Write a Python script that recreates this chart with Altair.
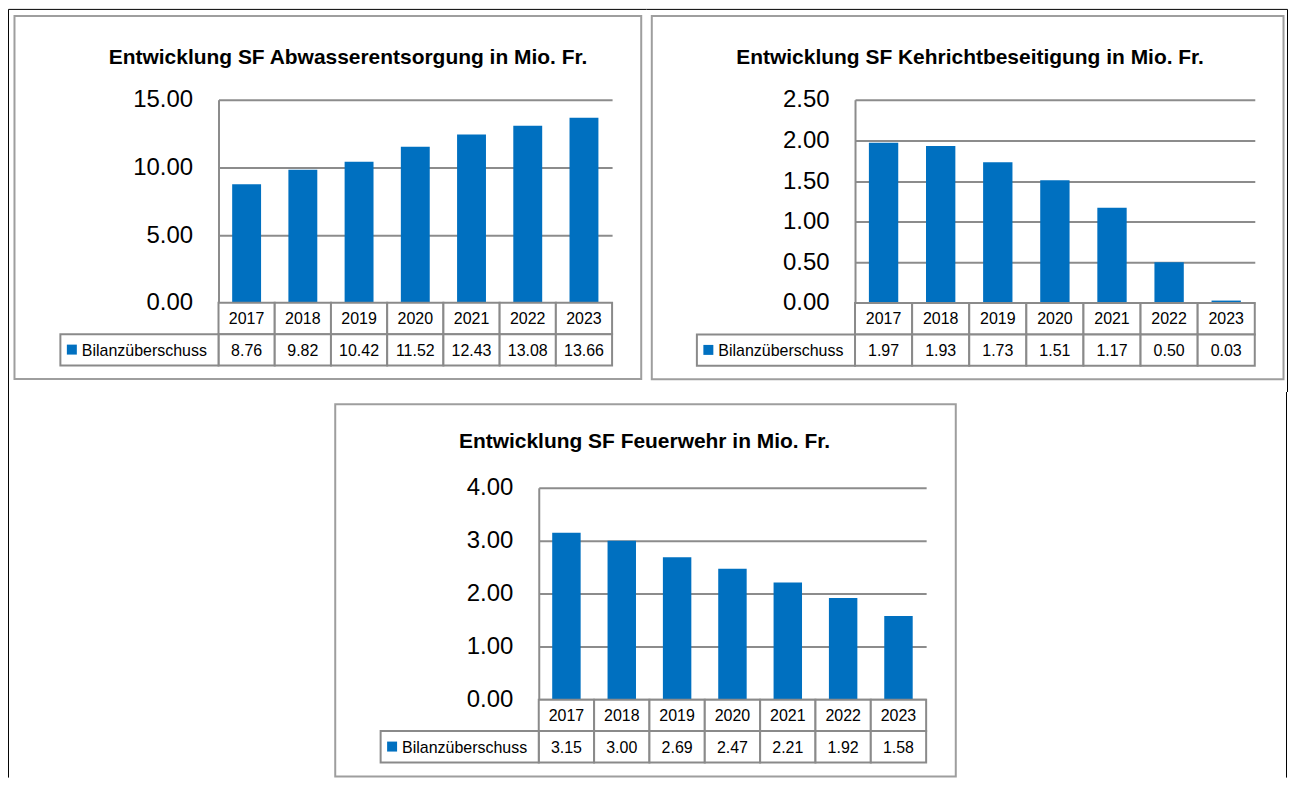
import altair as alt
import pandas as pd

# ---------------- data ----------------
years = ["2017", "2018", "2019", "2020", "2021", "2022", "2023"]
abwasser = [8.76, 9.82, 10.42, 11.52, 12.43, 13.08, 13.66]
kehricht = [1.97, 1.93, 1.73, 1.51, 1.17, 0.50, 0.03]
feuerwehr = [3.15, 3.00, 2.69, 2.47, 2.21, 1.92, 1.58]
titles = [
    "Entwicklung SF Abwasserentsorgung in Mio. Fr.",
    "Entwicklung SF Kehrichtbeseitigung in Mio. Fr.",
    "Entwicklung SF Feuerwehr in Mio. Fr.",
]
series_name = "Bilanzüberschuss"
y_ticks = [[0, 5, 10, 15], [0, 0.5, 1, 1.5, 2, 2.5], [0, 1, 2, 3, 4]]
y_max = [15, 2.5, 4]

# ---------------- style ----------------
BLUE = "#0070C0"
GRID = "#8c8c8c"
TABLE = "#8a8a8a"
FRAME = "#9e9e9e"
FONT = "Liberation Sans"
ROW = 31.5
one = pd.DataFrame({"k": [0]})


def black_lines(lines):
    out = []
    for ln in lines:
        if ln[0] == "h":
            _, x1, x2, y = ln
            out.append(alt.Chart(one).mark_rule(color="black", strokeWidth=1).encode(
                x=alt.value(x1), x2=alt.value(x2), y=alt.value(y)))
        else:
            _, x, y1, y2 = ln
            out.append(alt.Chart(one).mark_rule(color="black", strokeWidth=1).encode(
                x=alt.value(x), y=alt.value(y1), y2=alt.value(y2)))
    return out


def panel(values, title, ticks, ymax, W, H, frame, title_pos, lines):
    df = pd.DataFrame({"year": years, "value": values})
    xb = alt.X("year:N", sort=years, axis=None,
               scale=alt.Scale(paddingInner=0.486, paddingOuter=0.243))
    xc = alt.X("year:N", sort=years, axis=None,
               scale=alt.Scale(paddingInner=0, paddingOuter=0))

    fx1, fx2, fy1, fy2 = frame
    frame_l = alt.Chart(one).mark_rect(filled=False, stroke=FRAME, strokeWidth=2).encode(
        x=alt.value(fx1), x2=alt.value(fx2), y=alt.value(fy1), y2=alt.value(fy2))

    title_l = alt.Chart(one).mark_text(
        align="left", baseline="alphabetic", fontSize=21, fontWeight="bold",
        font=FONT, color="black").encode(
        x=alt.value(title_pos[0]), y=alt.value(title_pos[1]), text=alt.value(title))

    bars = alt.Chart(df).mark_bar(color=BLUE).encode(
        x=xb,
        y=alt.Y("value:Q",
                scale=alt.Scale(domain=[0, ymax], nice=False, zero=True),
                axis=alt.Axis(values=ticks, format=".2f", title=None, grid=True,
                              gridColor=GRID, gridWidth=2, domainColor=GRID,
                              domainWidth=2, ticks=False, labelPadding=26,
                              labelFontSize=24, labelColor="black", labelFont=FONT)))

    row1 = alt.Chart(df).mark_rect(fill="white", stroke=TABLE, strokeWidth=2).encode(
        x=xc, y=alt.value(H), y2=alt.value(H + ROW))
    row2 = alt.Chart(df).mark_rect(fill="white", stroke=TABLE, strokeWidth=2).encode(
        x=xc, y=alt.value(H + ROW), y2=alt.value(H + 2 * ROW))
    year_t = alt.Chart(df).mark_text(fontSize=16, baseline="alphabetic", font=FONT,
                                     color="black").encode(
        x=xc, y=alt.value(H + 21.5), text="year:N")
    val_t = alt.Chart(df).mark_text(fontSize=16, baseline="alphabetic", font=FONT,
                                    color="black").encode(
        x=xc, y=alt.value(H + ROW + 21.5), text=alt.Text("value:Q", format=".2f"))

    leg_cell = alt.Chart(one).mark_rect(fill="white", stroke=TABLE, strokeWidth=2).encode(
        x=alt.value(-158.5), x2=alt.value(0), y=alt.value(H + ROW), y2=alt.value(H + 2 * ROW))
    leg_sq = alt.Chart(one).mark_rect(color=BLUE).encode(
        x=alt.value(-152), x2=alt.value(-142), y=alt.value(H + ROW + 10.5),
        y2=alt.value(H + ROW + 20.5))
    leg_t = alt.Chart(one).mark_text(align="left", baseline="alphabetic", fontSize=16,
                                     font=FONT, color="black").encode(
        x=alt.value(-137), y=alt.value(H + ROW + 21.5), text=alt.value(series_name))

    layers = [frame_l, title_l, bars, row1, row2, year_t, val_t, leg_cell, leg_sq, leg_t]
    layers += black_lines(lines)
    return alt.layer(*layers).properties(width=W, height=H).resolve_scale(x="independent")


p1 = panel(abwasser, titles[0], y_ticks[0], y_max[0], 394.5, 203.5,
           (-204.5, 423.7, -84, 280), (-110, -36),
           [("h", -210.5, 429, -90.5), ("v", -210.5, -90.5, 293)])
p2 = panel(kehricht, titles[1], y_ticks[1], y_max[1], 400.7, 203.8,
           (-203.7, 429.5, -84, 280.3), (-119, -36),
           [("h", -209, 433.5, -90.5), ("v", 433.5, -90.5, 293)])
p3 = panel(feuerwehr, titles[2], y_ticks[2], y_max[2], 388.3, 212.4,
           (-204, 418, -83.7, 289.5), (-80, -39.7),
           [("v", 749.5, -96, 290.5)])

spacer = alt.layer(*black_lines([("v", -210.5, -96, 290.5)])).properties(width=116, height=100)

top = alt.hconcat(p1, p2, spacing=-2)
bottom = alt.hconcat(spacer, p3, spacing=0)
chart = alt.vconcat(top, bottom, spacing=-2, padding=0).configure_view(strokeWidth=0)

chart.save("out.html", embed_options={"renderer": "svg", "actions": False})
